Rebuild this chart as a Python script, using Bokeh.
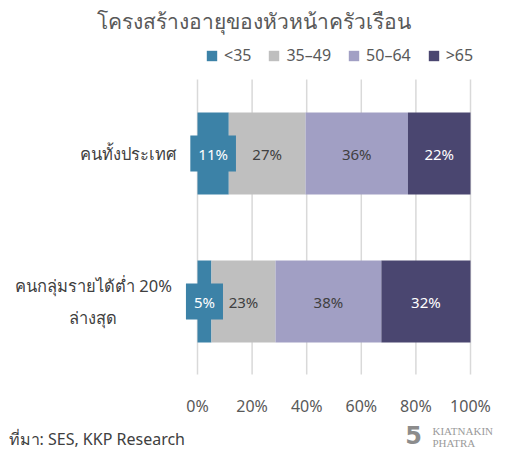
from bokeh.plotting import figure
from bokeh.models import Range1d, Label, ColumnDataSource
from bokeh.embed import file_html
from bokeh.resources import INLINE

# ---- data ----
categories = ["คนทั้งประเทศ", "คนกลุ่มรายได้ต่ำ 20%\nล่างสุด"]
groups = ["<35", "35–49", "50–64", ">65"]
age_lt35 = [11, 5]
age_35_49 = [27, 23]
age_50_64 = [36, 38]
age_gt65 = [22, 32]
x_ticks = [0, 0.2, 0.4, 0.6, 0.8, 1.0]
x_tick_labels = ["0%", "20%", "40%", "60%", "80%", "100%"]
title_text = "โครงสร้างอายุของหัวหน้าครัวเรือน"
source_text = "ที่มา: SES, KKP Research"

colors = ["#3c82a7", "#bfbfbf", "#a19fc4", "#4a4670"]
label_colors = ["white", "#404040", "#404040", "white"]
FONT = "Noto Sans"

# ---- layout constants (pixels) ----
W, H = 506, 450
PLOT_L, PLOT_R = 197, 470          # x of 0% and 100%
CAT0_PX, CAT_STEP = 153, 148       # y of first category center, spacing
GRID_TOP, GRID_BOT = 79, 374

series = [age_lt35, age_35_49, age_50_64, age_gt65]
n = len(categories)
totals = [sum(s[i] for s in series) for i in range(n)]
ypos = [n - 1 - i for i in range(n)]

sx = PLOT_R - PLOT_L
x_start = -PLOT_L / sx
x_end = (W - PLOT_L) / sx
ybot_px = CAT0_PX + (n - 1) * CAT_STEP   # pixel of y=0
y_end = ybot_px / CAT_STEP
y_start = (ybot_px - H) / CAT_STEP

def ydata(px):
    return (ybot_px - px) / CAT_STEP

data = {"y": ypos}
keys = []
for gi, s in enumerate(series):
    k = f"g{gi}"
    keys.append(k)
    data[k] = [v / t for v, t in zip(s, totals)]
src = ColumnDataSource(data)

p = figure(width=W, height=H, output_backend="svg", toolbar_location=None,
           x_range=Range1d(x_start, x_end), y_range=Range1d(y_start, y_end),
           min_border=0, min_border_left=0, min_border_right=0,
           min_border_top=0, min_border_bottom=0)
p.outline_line_color = None
p.title.visible = False
p.xaxis.visible = False
p.yaxis.visible = False
p.xgrid.visible = False
p.ygrid.visible = False

# gridlines from tick list
p.segment(x0=x_ticks, x1=x_ticks, y0=[ydata(GRID_TOP)] * len(x_ticks),
          y1=[ydata(GRID_BOT)] * len(x_ticks), line_color="#d9d9d9", line_width=1.5)

renderers = p.hbar_stack(keys, y="y", height=0.555, color=colors, source=src,
                         line_color=None, legend_label=groups)

# tick labels
for t, tl in zip(x_ticks, x_tick_labels):
    p.add_layout(Label(x=t, y=H - 405, x_units="data", y_units="screen", text=tl,
                       text_align="center", text_baseline="middle", text_font=FONT,
                       text_font_size="16px", text_color="#595959"))

# legend
lg = p.legend[0]
lg.orientation = "horizontal"
lg.location = (205, H - 66)
lg.padding = 0
lg.margin = 0
lg.border_line_color = None
lg.background_fill_alpha = 0
lg.glyph_width = 13
lg.glyph_height = 13
lg.label_standoff = 6
lg.spacing = 16
lg.label_text_font = FONT
lg.label_text_font_size = "16px"
lg.label_text_color = "#595959"

# segment value labels
for ci in range(n):
    cum = 0.0
    for gi, s in enumerate(series):
        share = s[ci] / totals[ci]
        mid = cum + share / 2
        cum += share
        kw = {}
        if gi == 0:
            kw = dict(background_fill_color=colors[0], padding=8)
        p.add_layout(Label(x=mid, y=ypos[ci], text=f"{s[ci]}%", text_align="center",
                           text_baseline="middle", text_font=FONT, text_font_size="15px",
                           text_color=label_colors[gi], **kw))

# category labels
for ci, cat in enumerate(categories):
    if "\n" in cat:
        p.add_layout(Label(x=0, y=ypos[ci], x_offset=-104, text=cat, text_align="center",
                           text_baseline="middle", text_font=FONT, text_font_size="16.5px",
                           text_color="#404040", text_line_height=1.35))
    else:
        p.add_layout(Label(x=0, y=ypos[ci], x_offset=-22, text=cat, text_align="right",
                           text_baseline="middle", text_font=FONT, text_font_size="16.5px",
                           text_color="#404040"))

def slabel(x, y, text, **kw):
    p.add_layout(Label(x=x, y=H - y, x_units="screen", y_units="screen", text=text,
                       text_baseline="middle", **kw))

# title, source, logo
slabel(W / 2, 20, title_text, text_align="center", text_font=FONT,
       text_font_size="21px", text_color="#595959")
slabel(8, 438, source_text, text_align="left", text_font=FONT,
       text_font_size="16px", text_color="#404040")
slabel(413, 434, "5", text_align="center", text_font="DejaVu Sans",
       text_font_style="bold", text_font_size="24px", text_color="#8c8c8c")
slabel(432, 430, "KIATNAKIN", text_align="left", text_font="Liberation Serif",
       text_font_size="11px", text_color="#9a9a9a")
slabel(432, 442, "PHATRA", text_align="left", text_font="Liberation Serif",
       text_font_size="11px", text_color="#9a9a9a")

open("out.html", "w").write(file_html(p, INLINE))
